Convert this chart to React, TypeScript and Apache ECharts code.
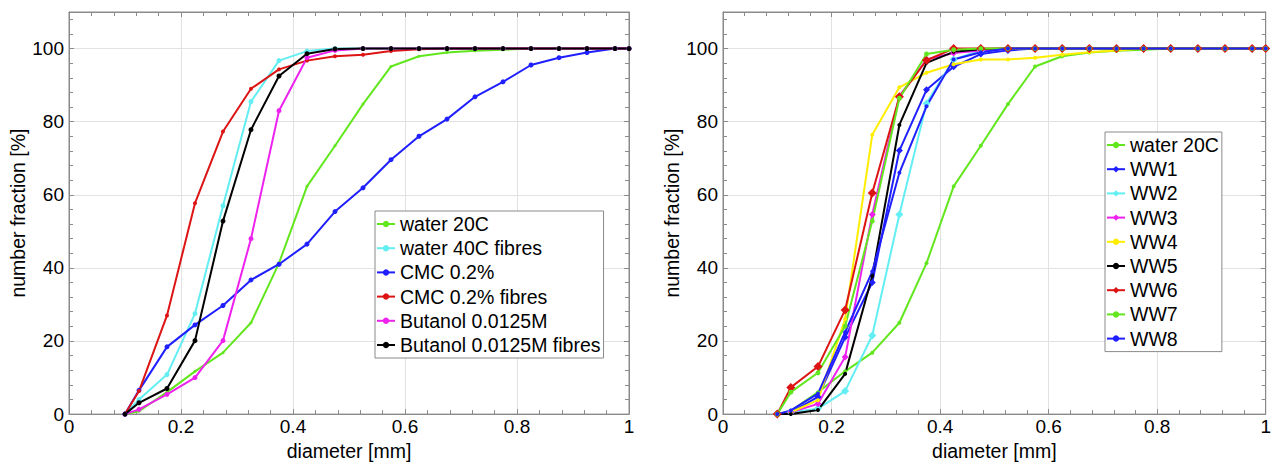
import React, { useEffect, useRef } from "react";
import * as echarts from "echarts";

// diameter values [mm]
const diameters = [0.1, 0.125, 0.175, 0.225, 0.275, 0.325, 0.375, 0.425, 0.475, 0.525, 0.575, 0.625, 0.675, 0.725, 0.775, 0.825, 0.875, 0.925, 0.975, 1.0];

// left chart
const water20C = [0, 0.8, 6, 11.7, 16.8, 25, 41.3, 62.3, 73.4, 84.8, 95.1, 97.9, 98.9, 99.4, 99.7, 100, 100, 100, 100, 100];
const water40CFibres = [0, 4, 10.8, 27.5, 57, 85.5, 96.7, 99.3, 100, 100, 100, 100, 100, 100, 100, 100, 100, 100, 100, 100];
const cmc02 = [0, 6.5, 18.4, 24.4, 29.7, 36.7, 41, 46.5, 55.4, 61.9, 69.6, 76, 80.7, 86.8, 90.9, 95.5, 97.5, 98.9, 100, 100];
const cmc02Fibres = [0, 6.3, 27, 57.7, 77.3, 89, 94.3, 96.7, 97.9, 98.3, 99.3, 99.8, 100, 100, 100, 100, 100, 100, 100, 100];
const butanol = [0, 1.3, 5.4, 10, 20.1, 48, 83, 97.5, 99.5, 100, 100, 100, 100, 100, 100, 100, 100, 100, 100, 100];
const butanolFibres = [0, 3.1, 7, 20.1, 52.8, 77.8, 92.5, 98.6, 99.9, 100, 100, 100, 100, 100, 100, 100, 100, 100, 100, 100];

// right chart
const ww1 = [0, 0.5, 4.7, 21, 36, 72.1, 88.7, 95, 98.5, 99.5, 100, 100, 100, 100, 100, 100, 100, 100, 100, 100];
const ww2 = [0, 0.5, 1.5, 6.3, 21.5, 54.6, 85, 97, 99.5, 100, 100, 100, 100, 100, 100, 100, 100, 100, 100, 100];
const ww3 = [0, 0.5, 2.8, 15.6, 54.6, 87, 97, 98.8, 99.5, 100, 100, 100, 100, 100, 100, 100, 100, 100, 100, 100];
const ww4 = [0, 0.5, 3.8, 26, 76.4, 89.4, 93.4, 95.7, 97, 97, 97.5, 98.3, 99, 99.5, 100, 100, 100, 100, 100, 100];
const ww5 = [0, 0, 1.1, 11, 37.8, 79.1, 96.1, 99.1, 99.8, 100, 100, 100, 100, 100, 100, 100, 100, 100, 100, 100];
const ww6 = [0, 7.3, 13, 28.5, 60.5, 86.8, 96.8, 100, 100, 100, 100, 100, 100, 100, 100, 100, 100, 100, 100, 100];
const ww7 = [0, 6, 11.3, 24, 52.8, 86.4, 98.5, 99.7, 100, 100, 100, 100, 100, 100, 100, 100, 100, 100, 100, 100];
const ww8 = [0, 1, 5.6, 22.4, 39, 66, 84.2, 97, 99, 100, 100, 100, 100, 100, 100, 100, 100, 100, 100, 100];

const leftNames = ["water 20C", "water 40C fibres", "CMC 0.2%", "CMC 0.2% fibres", "Butanol 0.0125M", "Butanol 0.0125M fibres"];
const rightNames = ["water 20C", "WW1", "WW2", "WW3", "WW4", "WW5", "WW6", "WW7", "WW8"];

const GREEN = "#62e61e";
const CYAN = "#62eef2";
const BLUE = "#1f1fff";
const RED = "#dd1414";
const MAGENTA = "#ee22ee";
const YELLOW = "#ffee00";
const BLACK = "#000000";
const FONT = "'Liberation Sans', Arial, sans-serif";
const AX = "#8a8a8a";
const TICK_FS = 19;
const NAME_FS = 19.5;

function mk(name: string, ys: number[], color: string, idx: number, symbol = "circle", size = 5) {
  return {
    type: "line",
    name,
    xAxisIndex: idx,
    yAxisIndex: idx,
    data: diameters.map((x, i) => [x, ys[i]]),
    lineStyle: { color, width: 2 },
    itemStyle: { color },
    symbol,
    symbolSize: size,
    showSymbol: true,
    animation: false,
  };
}

function xAxes(grid: number) {
  const base = {
    type: "value",
    gridIndex: grid,
    min: 0,
    max: 1,
    interval: 0.2,
    axisLine: { show: true, onZero: false, lineStyle: { color: AX, width: 1 } },
    axisTick: { show: true, inside: true, length: 5, lineStyle: { color: AX } },
    minorTick: { show: true, splitNumber: 5, length: 4, lineStyle: { color: AX } },
  };
  return [
    {
      ...base,
      position: "bottom",
      splitLine: { show: true, lineStyle: { color: "#e2e2e2", width: 1 } },
      axisLabel: { show: true, fontSize: TICK_FS, color: "#000", fontFamily: FONT, margin: 3 },
      name: "diameter [mm]",
      nameLocation: "middle",
      nameGap: 25,
      nameTextStyle: { fontSize: NAME_FS, color: "#000", fontFamily: FONT },
    },
    { ...base, position: "top", splitLine: { show: false }, axisLabel: { show: false } },
  ];
}

function yAxes(grid: number) {
  const base = {
    type: "value",
    gridIndex: grid,
    min: 0,
    max: 110,
    interval: 20,
    axisLine: { show: true, onZero: false, lineStyle: { color: AX, width: 1 } },
    axisTick: { show: true, inside: true, length: 5, lineStyle: { color: AX } },
    minorTick: { show: true, splitNumber: 5, length: 4, lineStyle: { color: AX } },
  };
  return [
    {
      ...base,
      position: "left",
      splitLine: { show: true, lineStyle: { color: "#e2e2e2", width: 1 } },
      axisLabel: { show: true, fontSize: TICK_FS, color: "#000", fontFamily: FONT, margin: 5, showMaxLabel: false },
      name: "number fraction [%]",
      nameLocation: "middle",
      nameGap: 40,
      nameTextStyle: { fontSize: NAME_FS, color: "#000", fontFamily: FONT },
    },
    { ...base, position: "right", splitLine: { show: false }, axisLabel: { show: false } },
  ];
}

const legendBase = {
  orient: "vertical",
  borderColor: "#8a8a8a",
  borderWidth: 1,
  backgroundColor: "#fff",
  itemWidth: 18,
  itemHeight: 8,
  itemGap: 4.2,
  padding: [3, 3, 3, 1],
  textStyle: { fontSize: NAME_FS, color: "#000", fontFamily: FONT },
  selectedMode: false,
};

export default function App() {
  const ref = useRef<HTMLDivElement>(null);
  useEffect(() => {
    if (!ref.current) return;
    const chart = echarts.init(ref.current, undefined, { renderer: "svg" });
    chart.setOption({
      animation: false,
      backgroundColor: "#fff",
      grid: [
        { left: 69, top: 12, width: 560, height: 404, show: true, borderColor: AX, borderWidth: 1 },
        { left: 723, top: 12, width: 552, height: 404, show: true, borderColor: AX, borderWidth: 1 },
      ],
      xAxis: [...xAxes(0), ...xAxes(1)],
      yAxis: [...yAxes(0), ...yAxes(1)],
      legend: [
        { ...legendBase, left: 375, top: 211, data: leftNames },
        { ...legendBase, left: 1105, top: 132, data: rightNames },
      ],
      series: [
        mk("water 20C", water20C, GREEN, 0, "circle", 3),
        mk("water 40C fibres", water40CFibres, CYAN, 0),
        mk("CMC 0.2%", cmc02, BLUE, 0),
        mk("CMC 0.2% fibres", cmc02Fibres, RED, 0, "circle", 4),
        mk("Butanol 0.0125M", butanol, MAGENTA, 0),
        mk("Butanol 0.0125M fibres", butanolFibres, BLACK, 0),
        mk("water 20C", water20C, GREEN, 2, "circle", 4),
        mk("WW1", ww1, BLUE, 2, "diamond", 7),
        mk("WW2", ww2, CYAN, 2, "diamond", 8),
        mk("WW3", ww3, MAGENTA, 2, "diamond", 7),
        mk("WW4", ww4, YELLOW, 2, "circle", 4),
        mk("WW5", ww5, BLACK, 2, "circle", 4),
        mk("WW6", ww6, RED, 2, "diamond", 9),
        mk("WW7", ww7, GREEN, 2, "circle", 5),
        mk("WW8", ww8, BLUE, 2, "circle", 4),
      ],
    });
    return () => chart.dispose();
  }, []);
  return <div ref={ref} style={{ position: "absolute", left: 0, top: 0, width: 1274, height: 466 }} />;
}
